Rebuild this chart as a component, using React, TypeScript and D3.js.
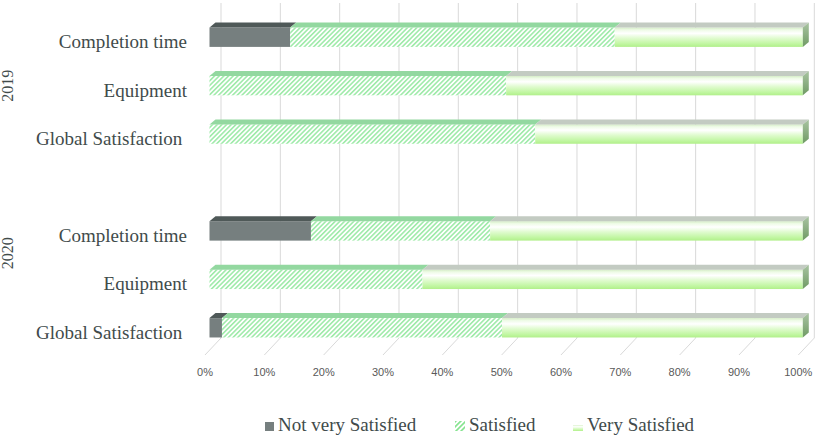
import React from "react";
import * as d3 from "d3";

// satisfaction survey, % of answers per category and year
const categories = ["Completion time", "Equipment", "Global Satisfaction"];
const years = ["2019", "2020"];
const series = ["Not very Satisfied", "Satisfied", "Very Satisfied"];

const notVery2019 = [13.6, 0, 0];
const satisfied2019 = [54.7, 50, 54.9];
const very2019 = [31.7, 50, 45.1];

const notVery2020 = [17.1, 0, 2.1];
const satisfied2020 = [30.2, 35.9, 47.2];
const very2020 = [52.7, 64.1, 50.7];

const tickValues = [0, 10, 20, 30, 40, 50, 60, 70, 80, 90, 100];

const W = 820;
const H = 436;

// 3d offsets
const barDx = 6;
const barDy = -5;
const floorDx = 16;
const floorDy = -17;
const floorY = 355;
const wallTop = 3;

const textColor = "#414b4b";
const serif = "'Liberation Serif', 'Times New Roman', serif";

type Row = { key: string; year: string; cat: string; values: number[] };

const rows: Row[] = [];
years.forEach((year, yi) => {
  const nv = yi === 0 ? notVery2019 : notVery2020;
  const s = yi === 0 ? satisfied2019 : satisfied2020;
  const v = yi === 0 ? very2019 : very2020;
  categories.forEach((cat, ci) => {
    rows.push({ key: year + "|" + cat, year, cat, values: [nv[ci], s[ci], v[ci]] });
  });
});

const rowKeys = [
  ...rows.slice(0, 3).map((r) => r.key),
  "gap",
  ...rows.slice(3).map((r) => r.key),
];

const App = () => {
  const xFloor = d3.scaleLinear().domain([0, 100]).range([205, 798.3]);
  const xBar = (v: number) => xFloor(v) + 4.5;
  const y = d3
    .scaleBand<string>()
    .domain(rowKeys)
    .range([13, 352])
    .paddingInner(0.6)
    .paddingOuter(0.3);
  const bh = y.bandwidth();

  const stackData = rows.map((r) => {
    const o: any = { key: r.key };
    series.forEach((s, i) => (o[s] = r.values[i]));
    return o;
  });
  const layers = d3.stack<any>().keys(series)(stackData);

  const frontFill = ["#767f7f", "url(#hatch)", "url(#veryGrad)"];
  const topFill = ["#4f5958", "#93d8a0", "#c3cbc2"];

  const poly = (pts: number[][]) => pts.map((p) => p.join(",")).join(" ");

  const yearY = (yi: number) => {
    const keys = rows.filter((r) => r.year === years[yi]).map((r) => r.key);
    if (yi === 0) return (y(keys[1]) as number) + bh / 2;
    return ((y(keys[0]) as number) + (y(keys[1]) as number)) / 2 + bh / 2 - 2;
  };

  return (
    <svg width={W} height={H} style={{ position: "absolute", left: 0, top: 0 }}>
      <defs>
        <pattern
          id="hatch"
          patternUnits="userSpaceOnUse"
          width={3.3}
          height={3.3}
          patternTransform="rotate(45)"
        >
          <rect width={3.3} height={3.3} fill="#ffffff" />
          <line x1={0.8} y1={0} x2={0.8} y2={3.3} stroke="#74e283" strokeWidth={1.1} />
        </pattern>
        <pattern
          id="hatchLegend"
          patternUnits="userSpaceOnUse"
          width={3.6}
          height={3.6}
          patternTransform="rotate(45)"
        >
          <rect width={3.6} height={3.6} fill="#ffffff" />
          <line x1={0.8} y1={0} x2={0.8} y2={3.6} stroke="#4fd85e" strokeWidth={1.2} />
        </pattern>
        <linearGradient id="veryGrad" x1="0" y1="0" x2="0" y2="1">
          <stop offset="0" stopColor="#d4ecc6" />
          <stop offset="0.12" stopColor="#eefbe6" />
          <stop offset="0.3" stopColor="#ffffff" />
          <stop offset="0.55" stopColor="#e0fbcf" />
          <stop offset="0.85" stopColor="#c0f6a0" />
          <stop offset="1" stopColor="#b1ef8a" />
        </linearGradient>
        <linearGradient id="sideGrad" x1="0" y1="0" x2="0" y2="1">
          <stop offset="0" stopColor="#a9c4a2" />
          <stop offset="1" stopColor="#6f9a64" />
        </linearGradient>
      </defs>

      {/* back wall + floor gridlines */}
      <g stroke="#d9d9d9" strokeWidth={1} fill="none">
        {tickValues.map((t) => (
          <polyline
            key={t}
            points={poly([
              [xFloor(t) + floorDx, wallTop],
              [xFloor(t) + floorDx, floorY + floorDy],
              [xFloor(t), floorY],
            ])}
          />
        ))}
      </g>

      {/* tick labels */}
      <g fontFamily="'Liberation Sans', Arial, sans-serif" fontSize={11} fill="#595959">
        {tickValues.map((t) => (
          <text key={t} x={xFloor(t)} y={376} textAnchor="middle">
            {t + "%"}
          </text>
        ))}
      </g>

      {/* bars */}
      {stackData.map((d, ri) => {
        const y0 = y(d.key) as number;
        const y1 = y0 + bh;
        const segs = layers
          .map((layer, si) => ({ si, a: layer[ri][0], b: layer[ri][1] }))
          .filter((s) => s.b - s.a > 0);
        const last = segs[segs.length - 1];
        return (
          <g key={d.key}>
            {segs.map((s) => {
              const xa = xBar(s.a);
              const xb = xBar(s.b);
              return (
                <g key={s.si}>
                  <rect x={xa} y={y0} width={xb - xa} height={bh} fill={frontFill[s.si]} />
                  <polygon
                    points={poly([
                      [xa, y0],
                      [xb, y0],
                      [xb + barDx, y0 + barDy],
                      [xa + barDx, y0 + barDy],
                    ])}
                    fill={topFill[s.si]}
                  />
                </g>
              );
            })}
            <polygon
              points={poly([
                [xBar(last.b), y0],
                [xBar(last.b) + barDx, y0 + barDy],
                [xBar(last.b) + barDx, y1 + barDy],
                [xBar(last.b), y1],
              ])}
              fill="url(#sideGrad)"
            />
          </g>
        );
      })}

      {/* category labels */}
      <g fontFamily={serif} fontSize={19} fill={textColor}>
        {rows.map((r) => (
          <text
            key={r.key}
            x={187}
            y={(y(r.key) as number) + bh / 2 + 11}
            textAnchor="end"
            style={{ whiteSpace: "pre" }}
          >
            {r.cat === "Global Satisfaction" ? r.cat + " " : r.cat}
          </text>
        ))}
      </g>

      {/* year labels */}
      <g fontFamily={serif} fontSize={16} fill={textColor}>
        {years.map((yr, yi) => (
          <text
            key={yr}
            transform={`translate(13,${yearY(yi)}) rotate(-90)`}
            textAnchor="middle"
          >
            {yr}
          </text>
        ))}
      </g>

      {/* legend */}
      <g fontFamily={serif} fontSize={19} fill={textColor}>
        <rect x={265} y={422} width={9} height={9} fill="#767f7f" />
        <text x={278} y={431}>{series[0]}</text>
        <rect x={455} y={421} width={10} height={10} fill="url(#hatchLegend)" />
        <text x={469} y={431}>{series[1]}</text>
        <rect x={573} y={425} width={10} height={6} fill="url(#veryGrad)" />
        <text x={587} y={431}>{series[2]}</text>
      </g>
    </svg>
  );
};

export default App;
